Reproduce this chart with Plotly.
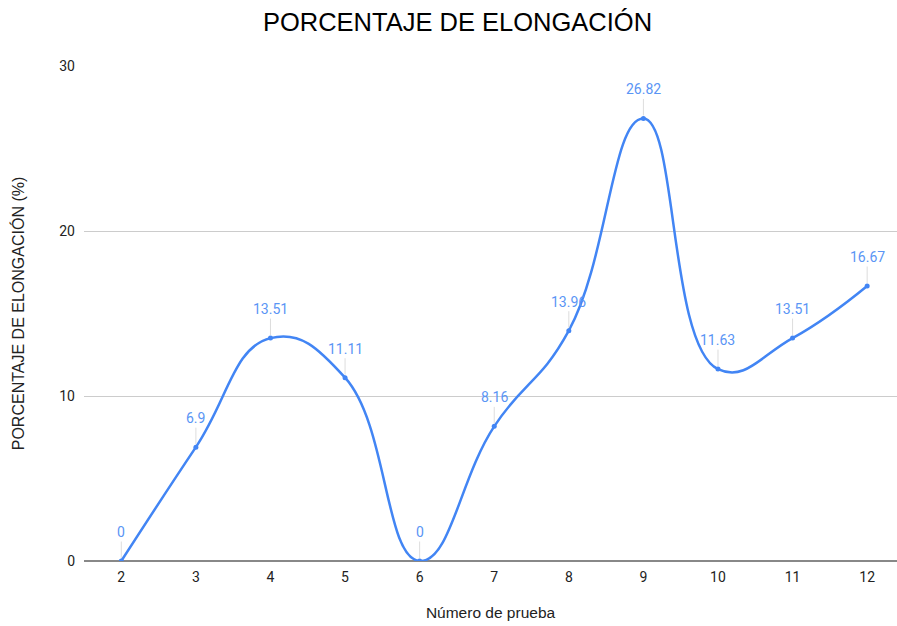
import plotly.graph_objects as go

# Elongation percentage per test number
pruebas = [2, 3, 4, 5, 6, 7, 8, 9, 10, 11, 12]
elongacion = [0, 6.9, 13.51, 11.11, 0, 8.16, 13.96, 26.82, 11.63, 13.51, 16.67]
y_ticks = [0, 10, 20, 30]

line_color = "#4285F4"
label_color = "#5a95f5"
text_color = "#222222"

fig = go.Figure()
fig.add_trace(go.Scatter(
    x=pruebas, y=elongacion,
    mode="lines+markers",
    line=dict(color=line_color, width=2.5, shape="spline", smoothing=1.3),
    marker=dict(color=line_color, size=5),
    hoverinfo="x+y",
    showlegend=False,
))

# Value labels above each point with a thin leader line
for xv, yv in zip(pruebas, elongacion):
    fig.add_annotation(
        x=xv, y=yv, xref="x", yref="y",
        text=f"{yv:g}",
        showarrow=True, arrowhead=0, arrowwidth=1, arrowcolor="#dddddd",
        ax=0, ay=-29, standoff=3,
        font=dict(family="Roboto", size=14, color=label_color),
    )

fig.update_layout(
    width=897, height=626,
    margin=dict(l=84, r=0, t=66, b=65),
    paper_bgcolor="white", plot_bgcolor="white",
    title=dict(
        text="PORCENTAJE DE ELONGACIÓN",
        x=0.51, xanchor="center", y=0.965, yanchor="middle",
        font=dict(family="Liberation Sans, Arial", size=25.5, color="#000000"),
    ),
    xaxis=dict(
        range=[1.5, 12.4],
        tickmode="array", tickvals=pruebas, ticktext=[str(p) for p in pruebas],
        showgrid=False, zeroline=False, showline=False,
        tickfont=dict(family="Roboto", size=14, color=text_color),
        ticks="", ticklabelstandoff=6,
        title=dict(text="Número de prueba", standoff=23,
                   font=dict(family="Liberation Sans, Arial", size=15.5, color=text_color)),
    ),
    yaxis=dict(
        range=[0, 30],
        tickmode="array", tickvals=y_ticks,
        showgrid=True, gridcolor="#cccccc", gridwidth=1,
        zeroline=True, zerolinecolor="#888888", zerolinewidth=2,
        showline=False, ticks="",
        tickfont=dict(family="Roboto", size=14, color=text_color),
        ticklabelstandoff=8,
        title=dict(text="PORCENTAJE DE ELONGACIÓN (%)", standoff=30,
                   font=dict(family="Liberation Sans, Arial", size=16, color=text_color)),
    ),
)

fig.write_html("out.html")
